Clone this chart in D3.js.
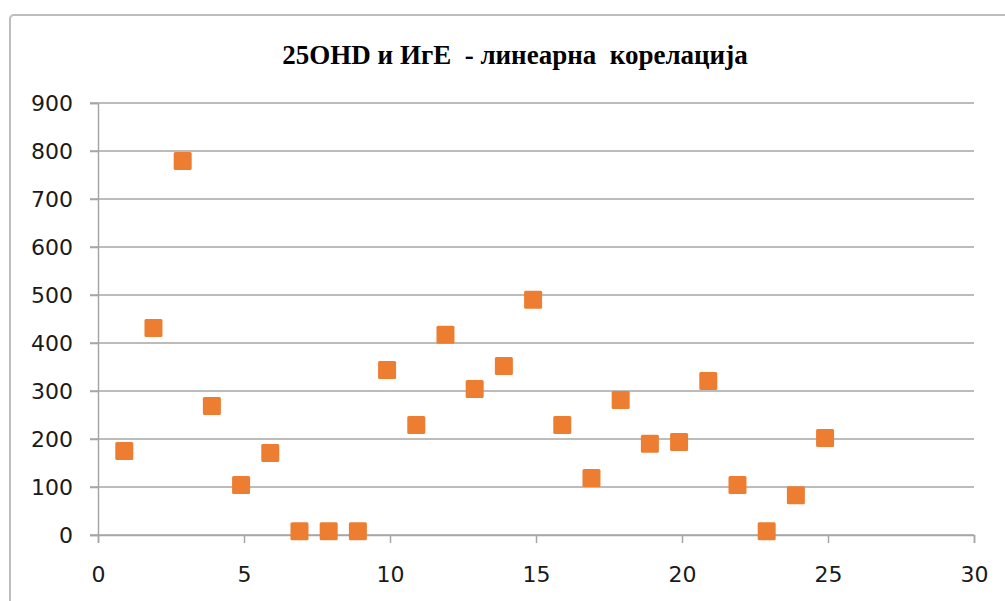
<!DOCTYPE html>
<html>
<head>
<meta charset="utf-8">
<script src="https://cdn.jsdelivr.net/npm/d3@7"></script>
<style>
  body { margin: 0; background: #fff; }
  svg { display: block; }
</style>
</head>
<body>
<svg id="chart" width="1005" height="601"></svg>
<script>
// values
const xValues = [0.9, 1.9, 2.9, 3.9, 4.9, 5.9, 6.9, 7.9, 8.9, 9.9, 10.9, 11.9, 12.9,
                 13.9, 14.9, 15.9, 16.9, 17.9, 18.9, 19.9, 20.9, 21.9, 22.9, 23.9, 24.9];
const yValues = [175, 431, 779, 269, 104, 171, 8, 8, 8, 344, 229, 417, 304,
                 352, 490, 229, 119, 281, 190, 194, 321, 104, 8, 83, 202];
const xTicks = [0, 5, 10, 15, 20, 25, 30];
const yTicks = [0, 100, 200, 300, 400, 500, 600, 700, 800, 900];
const title = "25OHD и ИгЕ  - линеарна  корелација";

const svg = d3.select("#chart");

// outer chart frame
svg.append("rect")
    .attr("x", 10).attr("y", 15)
    .attr("width", 1010).attr("height", 600)
    .attr("rx", 4)
    .attr("fill", "none")
    .attr("stroke", "#bdbdbd")
    .attr("stroke-width", 2);

const x = d3.scaleLinear().domain([0, 30]).range([98, 974]);
const y = d3.scaleLinear().domain([0, 900]).range([535, 103]);

// gridlines
svg.append("g")
    .selectAll("line")
    .data(yTicks)
    .join("line")
    .attr("x1", 90).attr("x2", x(30))
    .attr("y1", d => y(d)).attr("y2", d => y(d))
    .attr("stroke", "#a6a6a6")
    .attr("stroke-width", 1.5);

// y axis
const yAxis = svg.append("g")
    .attr("transform", `translate(${x(0)},0)`)
    .call(d3.axisLeft(y).tickValues(yTicks).tickSize(8).tickPadding(17));
yAxis.select(".domain").attr("stroke", "#a6a6a6").attr("stroke-width", 1.5);
yAxis.selectAll(".tick line").attr("stroke", "#a6a6a6").attr("stroke-width", 1.5);

// x axis
const xAxis = svg.append("g")
    .attr("transform", `translate(0,${y(0)})`)
    .call(d3.axisBottom(x).tickValues(xTicks).tickSize(8).tickPadding(23));
xAxis.select(".domain").attr("stroke", "#a6a6a6").attr("stroke-width", 1.5);
xAxis.selectAll(".tick line").attr("stroke", "#a6a6a6").attr("stroke-width", 1.5);

svg.selectAll(".tick text")
    .attr("font-family", "'DejaVu Sans', Verdana, sans-serif")
    .attr("font-size", 22)
    .attr("fill", "#1a1a1a");

// title
svg.append("text")
    .attr("x", 515).attr("y", 64)
    .attr("text-anchor", "middle")
    .attr("font-family", "'Liberation Serif', 'Times New Roman', serif")
    .attr("font-weight", "bold")
    .attr("font-size", 27)
    .attr("fill", "#000")
    .style("white-space", "pre")
    .text(title);

// markers
const size = 18;
svg.append("g")
    .selectAll("rect")
    .data(d3.zip(xValues, yValues))
    .join("rect")
    .attr("x", d => x(d[0]) - size / 2)
    .attr("y", d => y(d[1]) - size / 2)
    .attr("width", size).attr("height", size)
    .attr("rx", 1.5)
    .attr("fill", "#ed7d31");
</script>
</body>
</html>
